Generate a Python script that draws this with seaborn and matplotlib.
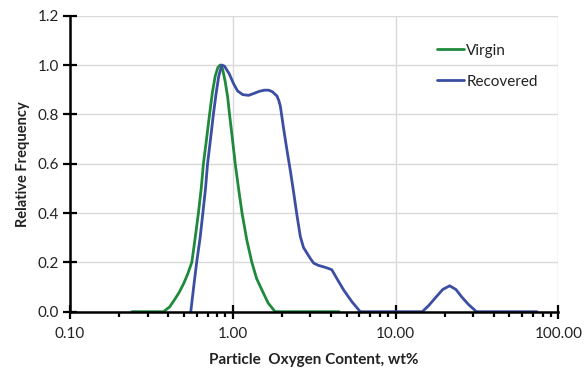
import numpy as np
import pandas as pd
import matplotlib
matplotlib.use("Agg")
import matplotlib.pyplot as plt
import seaborn as sns
from matplotlib.ticker import FixedLocator, FixedFormatter, LogLocator, NullFormatter

# ---- data ----
virgin_x = [0.24, 0.30, 0.375, 0.41, 0.44, 0.47, 0.50, 0.53, 0.56, 0.585, 0.615,
            0.64, 0.66, 0.69, 0.72, 0.75, 0.78, 0.81, 0.837, 0.865, 0.90,
            0.93, 0.955, 0.995, 1.035, 1.09, 1.14, 1.22, 1.31, 1.40, 1.51,
            1.65, 1.82, 2.6, 4.5]
virgin_y = [0.0, 0.0, 0.0, 0.02, 0.05, 0.08, 0.115, 0.155, 0.20, 0.29, 0.40,
            0.50, 0.60, 0.70, 0.80, 0.89, 0.955, 0.99, 1.0, 0.985, 0.93,
            0.87, 0.80, 0.70, 0.60, 0.49, 0.40, 0.29, 0.20, 0.135, 0.088,
            0.035, 0.0, 0.0, 0.0]

recovered_x = [0.552, 0.575, 0.60, 0.63, 0.655, 0.68, 0.70, 0.73, 0.76, 0.79,
               0.82, 0.857, 0.89, 0.95, 1.01, 1.07, 1.15, 1.25, 1.35, 1.45,
               1.56, 1.66, 1.75, 1.87, 1.92, 1.96, 2.05, 2.15, 2.26, 2.37,
               2.48, 2.60, 2.72, 2.86, 3.0, 3.14, 3.35, 3.6, 3.85, 4.06,
               4.4, 4.80, 5.4, 6.07, 10.0, 14.6, 16.0, 17.5, 19.5, 21.5,
               23.5, 25.5, 28.0, 31.4, 50.0, 74.0]
recovered_y = [0.0, 0.10, 0.20, 0.30, 0.40, 0.50, 0.60, 0.70, 0.80, 0.885,
               0.955, 1.0, 0.995, 0.965, 0.925, 0.895, 0.88, 0.877, 0.885, 0.893,
               0.898, 0.898, 0.892, 0.874, 0.855, 0.833, 0.745, 0.657, 0.57, 0.48,
               0.39, 0.305, 0.26, 0.237, 0.215, 0.197, 0.188, 0.182, 0.176, 0.170,
               0.13, 0.088, 0.04, 0.0, 0.0, 0.0, 0.025, 0.055, 0.09, 0.105,
               0.09, 0.06, 0.03, 0.0, 0.0, 0.0]

series_names = ["Virgin", "Recovered"]
x_ticks = [0.1, 1.0, 10.0, 100.0]
x_tick_labels = ["0.10", "1.00", "10.00", "100.00"]
y_ticks = [0.0, 0.2, 0.4, 0.6, 0.8, 1.0, 1.2]
y_tick_labels = ["0.0", "0.2", "0.4", "0.6", "0.8", "1.0", "1.2"]

df = pd.concat([
    pd.DataFrame({"x": virgin_x, "y": virgin_y, "series": series_names[0]}),
    pd.DataFrame({"x": recovered_x, "y": recovered_y, "series": series_names[1]}),
], ignore_index=True)

sns.set_style("white")
plt.rcParams["font.family"] = ["Lato", "DejaVu Sans"]

fig = plt.figure(figsize=(5.86, 3.69), dpi=100)
ax = fig.add_axes([0.1195, 0.1553, 0.8332, 0.8022])

palette = {"Virgin": "#1f8a3c", "Recovered": "#3b4ea3"}
sns.lineplot(data=df, x="x", y="y", hue="series", palette=palette, sort=False,
             linewidth=2.0, ax=ax, legend=True, estimator=None)
for ln in ax.lines:
    ln.set_solid_joinstyle("round")
    ln.set_solid_capstyle("round")

ax.set_xscale("log")
ax.set_xlim(0.1, 100)
ax.set_ylim(0, 1.2)

ax.xaxis.set_major_locator(FixedLocator(x_ticks))
ax.xaxis.set_major_formatter(FixedFormatter(x_tick_labels))
ax.xaxis.set_minor_locator(LogLocator(base=10, subs=np.arange(2, 10)))
ax.xaxis.set_minor_formatter(NullFormatter())
ax.yaxis.set_major_locator(FixedLocator(y_ticks))
ax.yaxis.set_major_formatter(FixedFormatter(y_tick_labels))

ax.grid(True, which="major", color="#d9d9d9", linewidth=1.0)
ax.set_axisbelow(True)
for s in ["top", "right"]:
    ax.spines[s].set_visible(False)
for s in ["left", "bottom"]:
    ax.spines[s].set_color("black")
    ax.spines[s].set_linewidth(1.8)

ax.tick_params(axis="both", which="major", direction="inout", length=9.5, width=1.6,
               colors="black", labelsize=11, labelcolor="#222222",
               bottom=True, left=True)
ax.tick_params(axis="x", which="minor", direction="out", length=3.5, width=1.6,
               colors="black", bottom=True)
ax.tick_params(axis="x", which="major", pad=6)
ax.tick_params(axis="y", which="major", pad=3)

ax.set_xlabel("Particle  Oxygen Content, wt%", fontsize=11, fontweight="bold", color="#222222", labelpad=9)
ax.set_ylabel("Relative Frequency", fontsize=10.5, fontweight="bold", color="#222222", labelpad=6)

leg = ax.legend(loc="upper left", bbox_to_anchor=(0.752, 0.905), frameon=False,
                fontsize=11, handlelength=1.75, handletextpad=0.15, labelspacing=1.1,
                borderpad=0, borderaxespad=0)
for t in leg.get_texts():
    t.set_color("#222222")

fig.savefig("out.png", dpi=100)
